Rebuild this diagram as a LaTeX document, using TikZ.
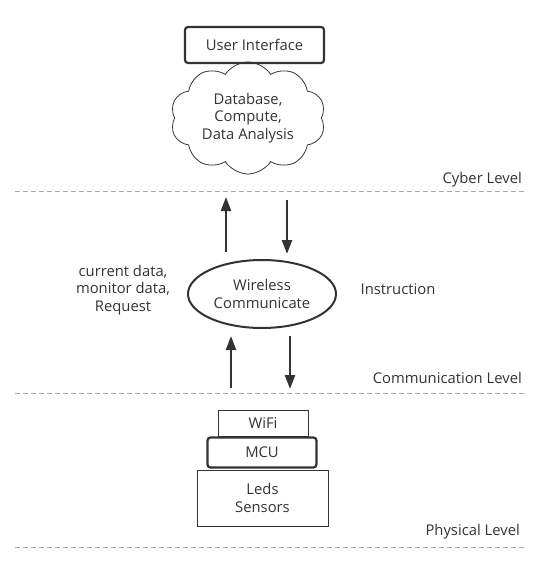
\documentclass[tikz,border=0pt]{standalone}
\usepackage{fontspec}
\setmainfont{Open Sans}
\usetikzlibrary{shapes.geometric,shapes.symbols,arrows.meta}
\definecolor{ink}{HTML}{333333}
\definecolor{dashgrey}{HTML}{A8A8A8}

\begin{document}
\begin{tikzpicture}[x=1pt,y=1pt,font=\fontsize{14.8}{17.5}\selectfont,text=ink]
\tikzstyle{every node}+=[inner sep=0pt,align=center]
\tikzstyle{thickbox}=[draw=ink,line width=2.2pt,rounded corners=3pt]
\tikzstyle{thinbox}=[draw=ink,line width=0.8pt]
\tikzstyle{flow}=[draw=ink,line width=2.4pt,-{Triangle[length=14pt,width=10pt]}]
\tikzstyle{level}=[draw=dashgrey,line width=0.9pt,dash pattern=on 5pt off 3pt]
\useasboundingbox (0,0) rectangle (545,-576);
% cyber level
\node [thickbox,minimum width=139,minimum height=36] (ui) at (254.5,-45) {User Interface};
\node [cloud,draw=ink,line width=0.8pt,cloud puffs=10,cloud puff arc=115,cloud ignores aspect,
  minimum width=155,minimum height=112] (cloud) at (248,-118) {Database,\\Compute,\\Data Analysis};
\node [anchor=east] (cyber) at (522,-180) {Cyber Level};
\coordinate (c1l) at (15,-191);
\coordinate (c1r) at (527,-191);
\draw [level] (c1l) -- (c1r);
% communication level
\node [ellipse,draw=ink,line width=2pt,minimum width=148,minimum height=68] (radio) at (262,-294) {Wireless\\Communicate};
\node (data) at (123,-290) {current data,\\monitor data,\\Request};
\node (instr) at (398,-289) {Instruction};
\coordinate (a1s) at (226,-252);
\coordinate (a1e) at (226,-197);
\coordinate (a2s) at (287,-200);
\coordinate (a2e) at (287,-254);
\coordinate (a3s) at (231,-388);
\coordinate (a3e) at (231,-336);
\coordinate (a4s) at (290,-336);
\coordinate (a4e) at (290,-389);
\draw [flow] (a1s) -- (a1e);
\draw [flow] (a2s) -- (a2e);
\draw [flow] (a3s) -- (a3e);
\draw [flow] (a4s) -- (a4e);
\node [anchor=east] (comm) at (522,-378) {Communication Level};
\coordinate (c2l) at (15,-393);
\coordinate (c2r) at (527,-393);
\draw [level] (c2l) -- (c2r);
% physical level
\node [thinbox,minimum width=90,minimum height=26] (wifi) at (263,-423) {WiFi};
\node [thickbox,minimum width=109,minimum height=30] (mcu) at (262,-452.5) {MCU};
\node [thinbox,minimum width=131,minimum height=56] (leds) at (262.5,-498) {Leds\\Sensors};
\node [anchor=east] (phys) at (520,-532) {Physical Level};
\coordinate (c3l) at (15,-547);
\coordinate (c3r) at (527,-547);
\draw [level] (c3l) -- (c3r);
\end{tikzpicture}
\end{document}
